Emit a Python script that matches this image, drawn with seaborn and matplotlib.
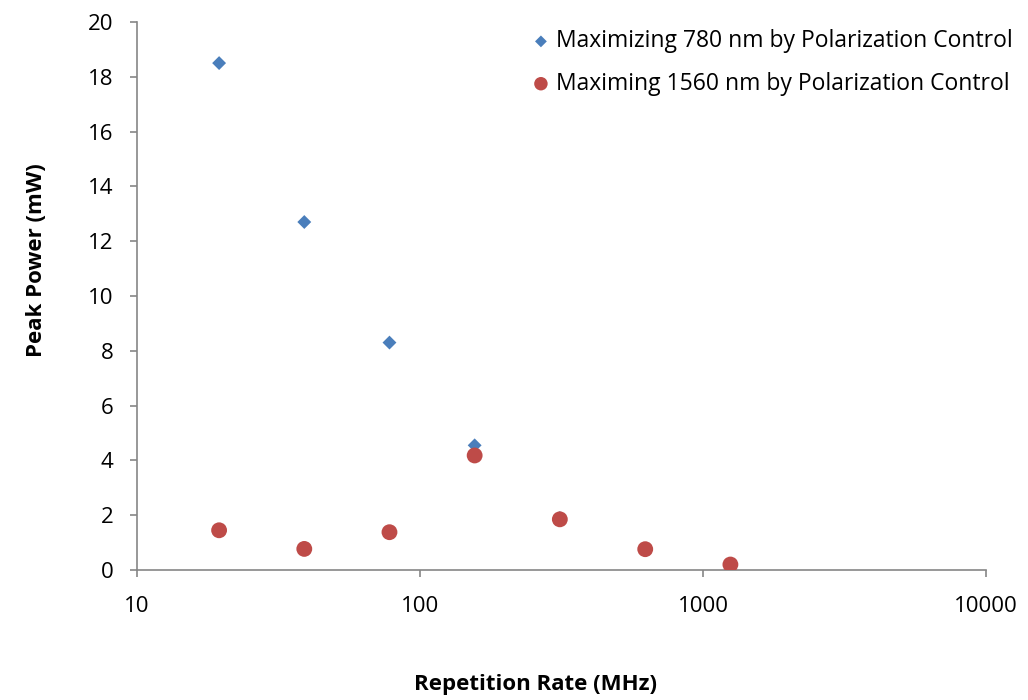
import matplotlib
matplotlib.use("Agg")
import matplotlib.pyplot as plt
import seaborn as sns
import pandas as pd

rate_780 = [19.5, 39, 78, 156, 312]
power_780 = [18.5, 12.7, 8.3, 4.55, 1.9]
rate_1560 = [19.5, 39, 78, 156, 312, 625, 1250]
power_1560 = [1.45, 0.77, 1.38, 4.18, 1.85, 0.76, 0.2]
label_780 = "Maximizing 780 nm by Polarization Control"
label_1560 = "Maximing 1560 nm by Polarization Control"

sns.set_style("white")
plt.rcParams['font.family'] = ['Open Sans', 'DejaVu Sans']
plt.rcParams['text.color'] = 'black'
plt.rcParams['axes.labelcolor'] = 'black'

fig = plt.figure(figsize=(10.28, 7.0), dpi=100)
ax = fig.add_axes([0.1333, 0.1857, 0.8258, 0.7829])

df1 = pd.DataFrame({"x": rate_780, "y": power_780})
df2 = pd.DataFrame({"x": rate_1560, "y": power_1560})
sns.scatterplot(data=df1, x="x", y="y", ax=ax, marker="D", s=50, color="#4a7ebb",
                edgecolor="none", label=label_780, zorder=3)
sns.scatterplot(data=df2, x="x", y="y", ax=ax, marker="o", s=130, color="#be4b48",
                edgecolor="none", label=label_1560, zorder=4)

ax.set_xscale("log")
ax.set_xlim(10, 10000)
ax.set_ylim(0, 20)
ax.set_yticks(range(0, 21, 2))
ax.set_xticks([10, 100, 1000, 10000])
ax.set_xticklabels(["10", "100", "1000", "10000"])
ax.minorticks_off()
ax.tick_params(axis="both", which="major", direction="out", length=5, width=1.2,
               color="#868686", labelcolor="black", labelsize=16, bottom=True, left=True)
ax.tick_params(axis="x", pad=14)
ax.tick_params(axis="y", pad=12)
for s in ["top", "right"]:
    ax.spines[s].set_visible(False)
for s in ["left", "bottom"]:
    ax.spines[s].set_color("#868686")
    ax.spines[s].set_linewidth(1.2)

ax.set_xlabel("Repetition Rate (MHz)", fontsize=16, fontweight="bold")
ax.set_ylabel("Peak Power (mW)", fontsize=16, fontweight="bold")
ax.xaxis.set_label_coords(0.469, -0.19)
ax.yaxis.set_label_coords(-0.106, 0.566)

ax.get_legend().remove()
h, l = ax.get_legend_handles_labels()
fig.legend(h, l, loc="upper left", bbox_to_anchor=(0.5195, 0.958), frameon=False,
           fontsize=16.5, handlelength=0.6, handletextpad=0.35, labelspacing=0.8,
           borderpad=0, borderaxespad=0, markerscale=0.85)

fig.savefig("out.png", dpi=100)
